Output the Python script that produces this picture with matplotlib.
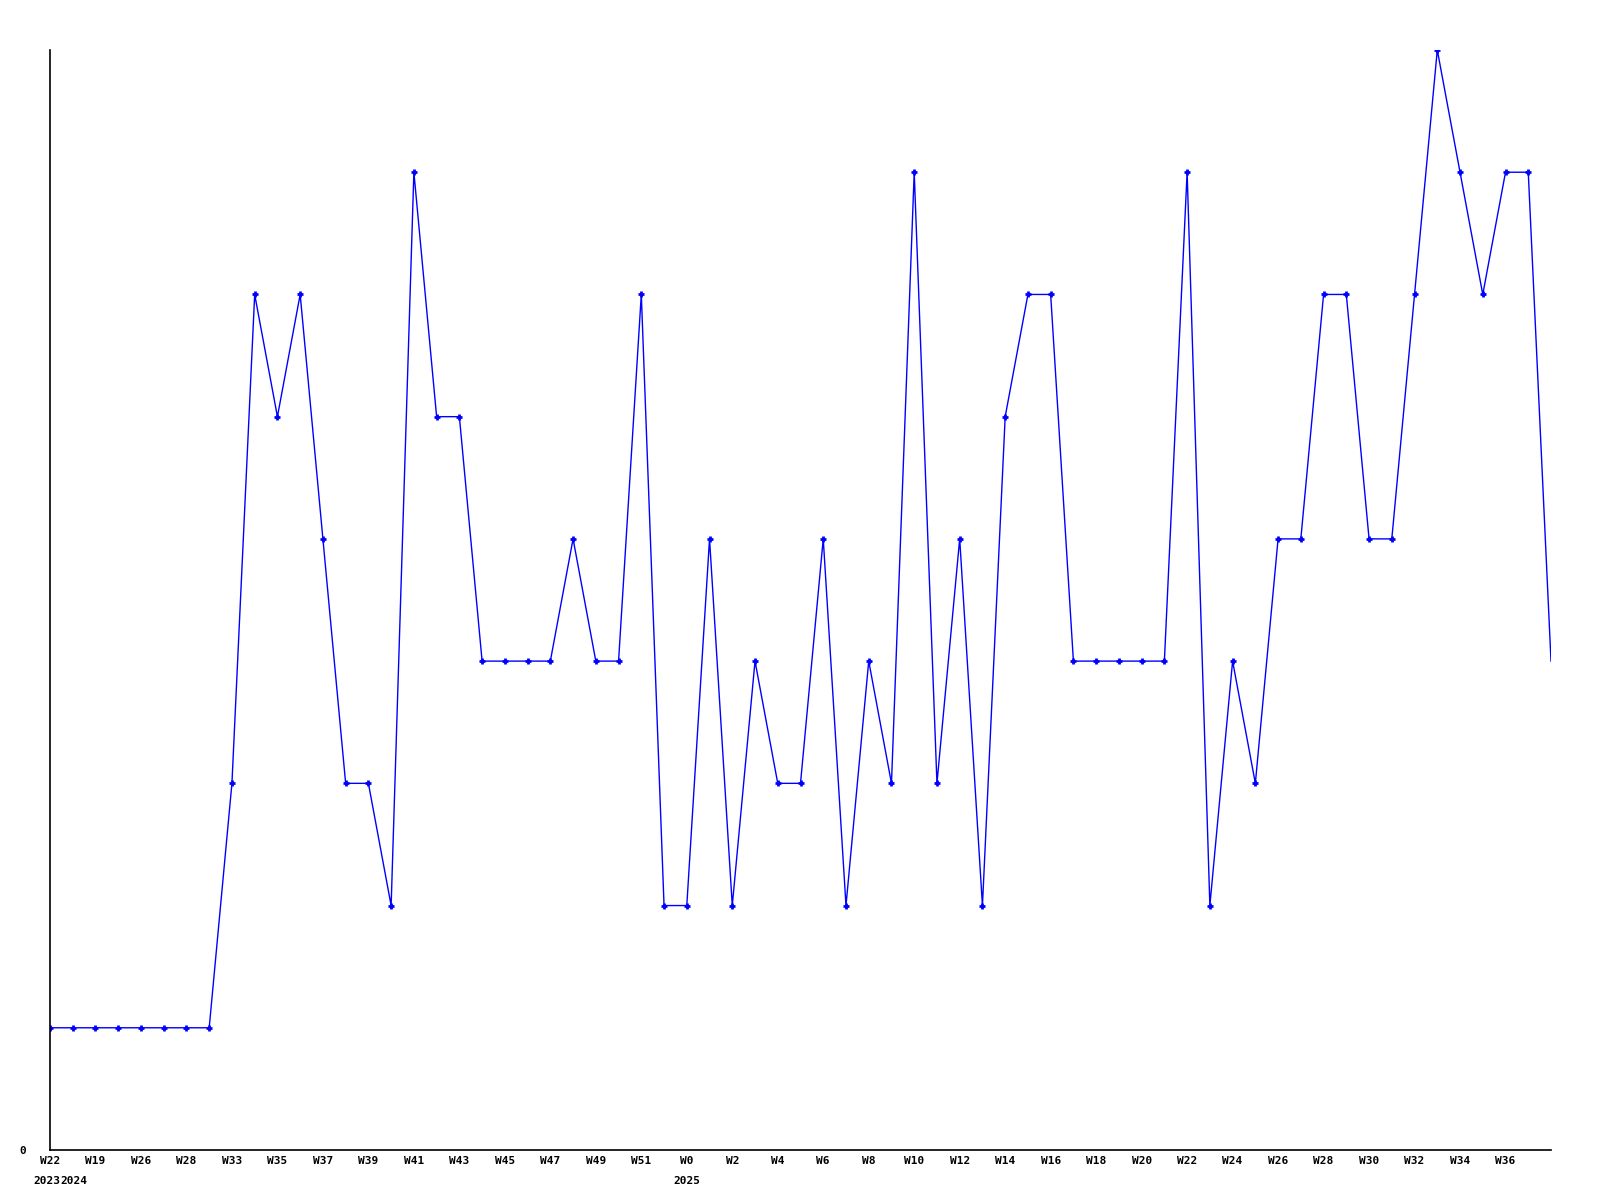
import matplotlib
matplotlib.use("Agg")
import matplotlib.pyplot as plt
import matplotlib.transforms as mtransforms

# weekly counts, one per point (irregular weeks at the start)
values = [1, 1, 1, 1, 1, 1, 1, 1, 3, 7,
          6, 7, 5, 3, 3, 2, 8, 6, 6, 4,
          4, 4, 4, 5, 4, 4, 7, 2, 2, 5,
          2, 4, 3, 3, 5, 2, 4, 3, 8, 3,
          5, 2, 6, 7, 7, 4, 4, 4, 4, 4,
          8, 2, 4, 3, 5, 5, 7, 7, 5, 5,
          7, 9, 8, 7, 8, 8, 4]

# labels shown on every other point (last point unlabeled)
tick_labels = ["W22", "W19", "W26", "W28", "W33", "W35", "W37", "W39",
               "W41", "W43", "W45", "W47", "W49", "W51", "W0", "W2",
               "W4", "W6", "W8", "W10", "W12", "W14", "W16", "W18",
               "W20", "W22", "W24", "W26", "W28", "W30", "W32", "W34",
               "W36"]

# year markers: (point index, year)
year_idx = [0, 1, 28]
year_txt = ["2023", "2024", "2025"]

xs = list(range(len(values)))
font = dict(family="DejaVu Sans Mono", weight="bold", size=8)

fig = plt.figure(figsize=(16, 12), dpi=100)
ax = fig.add_axes([50 / 1600, 50 / 1200, 1501 / 1600, 1100 / 1200])

ax.plot(xs, values, color="#0000ff", linewidth=1.0,
        marker="+", markersize=5, markeredgewidth=2,
        markevery=list(range(len(values) - 1)))

ax.set_xlim(0, len(values) - 1)
ax.set_ylim(0, 9)

for s in ["top", "right"]:
    ax.spines[s].set_visible(False)
for s in ["left", "bottom"]:
    ax.spines[s].set_color("black")
    ax.spines[s].set_linewidth(1.2)

ax.set_xticks(xs[0:len(tick_labels) * 2:2])
ax.set_xticklabels(tick_labels, fontdict=font)
ax.set_yticks([0])
ax.set_yticklabels(["0"], fontdict=font)
ax.tick_params(axis="x", length=0, pad=4)
ax.tick_params(axis="y", length=0, pad=17)

trans = mtransforms.blended_transform_factory(ax.transData, ax.transAxes)
# 2023 and 2024 sit on neighbouring points; nudge 2024 so they don't collide
nudge = {0: (-2, "center"), 1: (1, "center")}
for i, t in zip(year_idx, year_txt):
    dx, ha = nudge.get(i, (0, "center"))
    ax.annotate(t, xy=(i, -0.024), xycoords=trans,
                xytext=(dx, 0), textcoords="offset points",
                ha=ha, va="top", **font)

fig.savefig("out.png", dpi=100, facecolor="white")
